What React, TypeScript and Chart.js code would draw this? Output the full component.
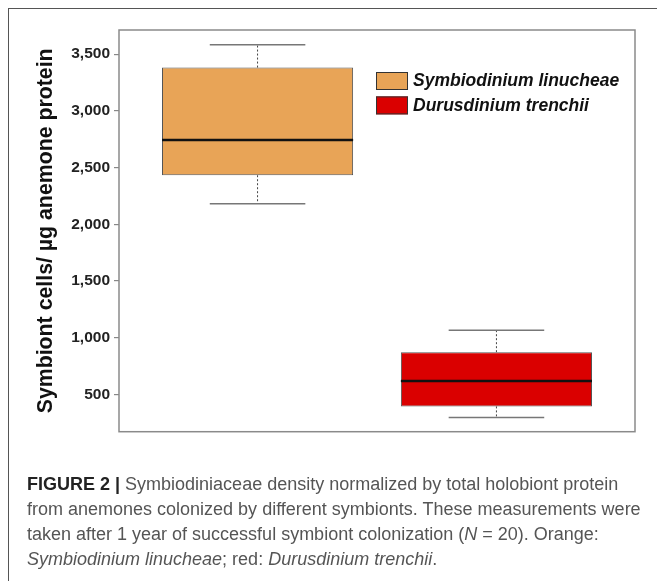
import React, { useEffect, useRef } from 'react';
import { Chart, registerables } from 'chart.js';

Chart.register(...registerables);

// ---- data ----
const categories = ['Symbiodinium linucheae', 'Durusdinium trenchii'];
const positions = [1, 2];
const whiskerMin = [2182, 298];
const q1 = [2433, 395];
const median = [2744, 618];
const q3 = [3382, 873];
const whiskerMax = [3582, 1066];
const colors = ['#E8A457', '#DA0000'];
const yTicks = [500, 1000, 1500, 2000, 2500, 3000, 3500];
const yMin = 172;
const yMax = 3713;
const xMin = 0.42;
const xMax = 2.58;
const yTitle = 'Symbiont cells/ \u00B5g anemone protein';

const FONT = "'Liberation Sans', Arial, Helvetica, sans-serif";

const boxPlugin = {
  id: 'boxExtras',
  afterDatasetsDraw(chart: any) {
    const ctx = chart.ctx;
    const xs = chart.scales.x;
    const ys = chart.scales.y;
    const meta = chart.getDatasetMeta(0);
    ctx.save();
    positions.forEach((p, i) => {
      const bar = meta.data[i];
      const cx = xs.getPixelForValue(p);
      const hw = bar.width / 2;
      const capHw = hw / 2;
      // whiskers (dashed)
      ctx.setLineDash([2, 2]);
      ctx.lineWidth = 1;
      ctx.strokeStyle = '#444';
      ctx.beginPath();
      ctx.moveTo(cx, ys.getPixelForValue(q3[i]));
      ctx.lineTo(cx, ys.getPixelForValue(whiskerMax[i]));
      ctx.moveTo(cx, ys.getPixelForValue(q1[i]));
      ctx.lineTo(cx, ys.getPixelForValue(whiskerMin[i]));
      ctx.stroke();
      ctx.setLineDash([]);
      // caps
      ctx.strokeStyle = '#777';
      ctx.lineWidth = 1.5;
      ctx.beginPath();
      [whiskerMax[i], whiskerMin[i]].forEach((v) => {
        const y = ys.getPixelForValue(v);
        ctx.moveTo(cx - capHw, y);
        ctx.lineTo(cx + capHw, y);
      });
      ctx.stroke();
      // median
      ctx.strokeStyle = '#111';
      ctx.lineWidth = 2.5;
      ctx.beginPath();
      const my = ys.getPixelForValue(median[i]);
      ctx.moveTo(cx - hw, my);
      ctx.lineTo(cx + hw, my);
      ctx.stroke();
    });
    ctx.restore();
  },
  afterDraw(chart: any) {
    const ctx = chart.ctx;
    const a = chart.chartArea;
    ctx.save();
    // plot frame
    ctx.strokeStyle = '#8a8a8a';
    ctx.lineWidth = 1.5;
    ctx.strokeRect(a.left, a.top, a.right - a.left, a.bottom - a.top);
    // legend
    const lx = a.left + 257;
    let ly = a.top + 42;
    ctx.font = `italic bold 17.5px ${FONT}`;
    ctx.textBaseline = 'middle';
    ctx.textAlign = 'left';
    categories.forEach((c, i) => {
      ctx.fillStyle = colors[i];
      ctx.fillRect(lx, ly, 32, 18);
      ctx.strokeStyle = '#333';
      ctx.lineWidth = 1;
      ctx.strokeRect(lx + 0.5, ly + 0.5, 31, 17);
      ctx.fillStyle = '#111';
      ctx.fillText(c, lx + 37, ly + 9.5);
      ly += 24.4;
    });
    ctx.restore();
  },
};

export default function App() {
  const ref = useRef<HTMLCanvasElement>(null);
  useEffect(() => {
    const canvas = ref.current;
    if (!canvas) return;
    const chart = new Chart(canvas, {
      type: 'bar',
      data: {
        datasets: [
          {
            label: 'IQR',
            data: positions.map((p, i) => ({ x: p, y: [q1[i], q3[i]] })),
            backgroundColor: colors,
            borderColor: '#555',
            borderWidth: 1,
            borderSkipped: false,
            barPercentage: 1,
            categoryPercentage: 0.8,
          },
        ] as any,
      },
      options: {
        animation: false,
        responsive: false,
        events: [],
        layout: { padding: { left: 33, top: 30, right: 22, bottom: 12 } },
        plugins: { legend: { display: false }, tooltip: { enabled: false } },
        scales: {
          x: {
            type: 'linear',
            display: false,
            offset: false,
            min: xMin,
            max: xMax,
            ticks: { stepSize: 1, includeBounds: false },
            afterBuildTicks: (scale: any) => {
              scale.ticks = positions.map((v) => ({ value: v }));
            },
          },
          y: {
            type: 'linear',
            min: yMin,
            max: yMax,
            afterBuildTicks: (scale: any) => {
              scale.ticks = yTicks.map((v) => ({ value: v }));
            },
            afterFit: (scale: any) => {
              scale.width = 86;
            },
            border: { display: false },
            grid: {
              drawOnChartArea: false,
              drawTicks: true,
              tickLength: 5,
              color: '#888',
              lineWidth: 1.2,
            },
            ticks: {
              padding: 4,
              color: '#222',
              font: { family: FONT, size: 15.5, weight: 'bold' },
              callback: (v: any) => Number(v).toLocaleString('en-US'),
            },
            title: {
              display: true,
              text: yTitle,
              color: '#111',
              padding: 0,
              font: { family: FONT, size: 21.3, weight: 'bold' },
            },
          },
        },
      },
      plugins: [boxPlugin],
    } as any);
    return () => chart.destroy();
  }, []);

  return (
    <>
      <div
        style={{
          position: 'fixed',
          left: 8,
          top: 8,
          right: 0,
          bottom: 0,
          borderTop: '1.5px solid #555',
          borderLeft: '1.5px solid #555',
        }}
      />
      <canvas
        ref={ref}
        width={657}
        height={445}
        style={{ position: 'fixed', left: 0, top: 0, display: 'block' }}
      />
      <div
        style={{
          position: 'fixed',
          left: 27,
          top: 472,
          fontFamily: FONT,
          fontSize: 18,
          lineHeight: '25px',
          color: '#555',
          whiteSpace: 'nowrap',
        }}
      >
        <b style={{ color: '#222' }}>FIGURE 2 |</b> Symbiodiniaceae density normalized by total holobiont protein
        <br />
        from anemones colonized by different symbionts. These measurements were
        <br />
        taken after 1 year of successful symbiont colonization (<i>N</i> = 20). Orange:
        <br />
        <i>Symbiodinium linucheae</i>; red: <i>Durusdinium trenchii</i>.
      </div>
    </>
  );
}
